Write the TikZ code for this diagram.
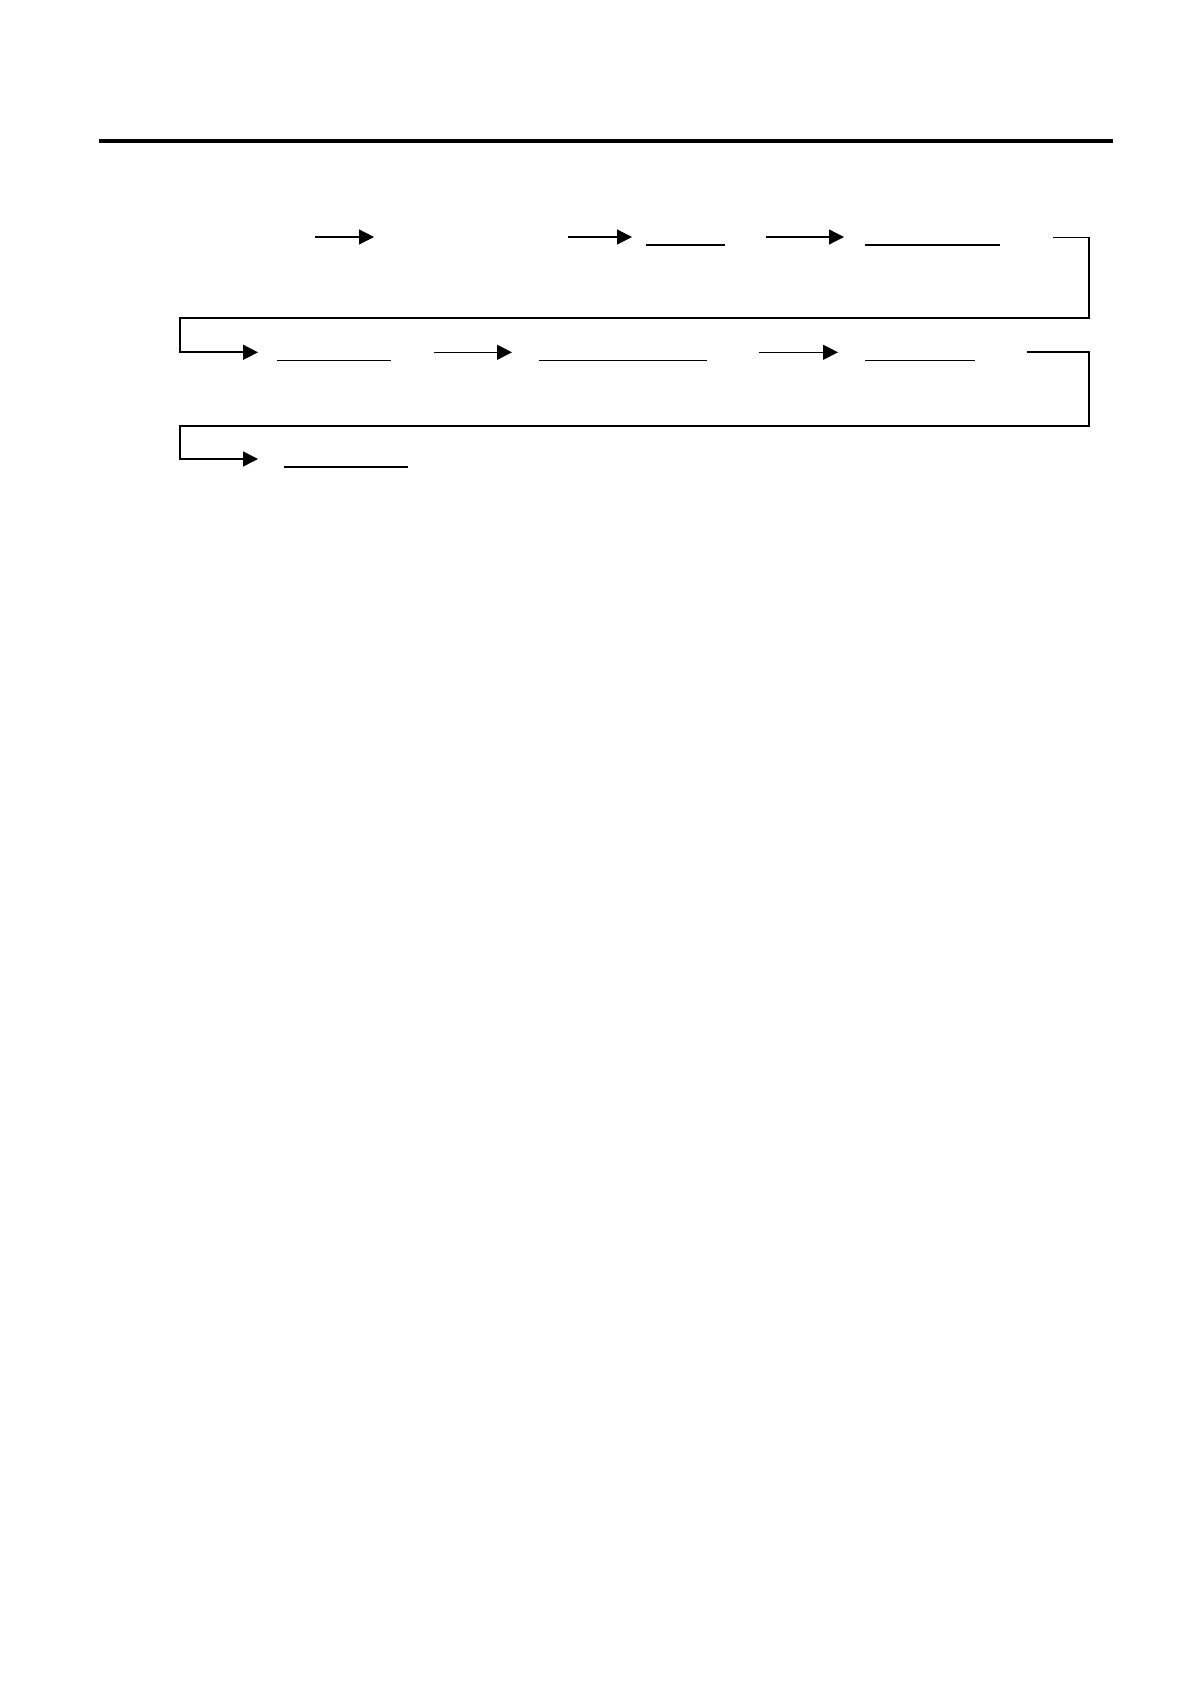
\documentclass[tikz,border=0pt]{standalone}
\usetikzlibrary{arrows.meta}
\begin{document}
\begin{tikzpicture}[x=0.5pt,y=-0.5pt,
  tip/.style={-{Triangle[length=7.5pt,width=7.5pt]}},
  flow/.style={line width=0.6pt,tip},
  blank/.style={line width=0.6pt},
  loopflow/.style={line width=0.8pt,line join=miter,tip},
  rulebar/.style={line width=2pt}]
\useasboundingbox (0,0) rectangle (1190,1684);
% top rule
\coordinate (rl) at (99,141);
\coordinate (rr) at (1113,141);
\draw[rulebar] (rl) -- (rr);
% row 1
\coordinate (a1s) at (315,237);  \coordinate (a1e) at (374,237);
\coordinate (a2s) at (568,237);  \coordinate (a2e) at (632,237);
\coordinate (u1s) at (646,245);  \coordinate (u1e) at (725,245);
\coordinate (a3s) at (766,237);  \coordinate (a3e) at (844,237);
\coordinate (u2s) at (865,245);  \coordinate (u2e) at (1000,245);
\draw[flow] (a1s) -- (a1e);
\draw[flow] (a2s) -- (a2e);
\draw[blank] (u1s) -- (u1e);
\draw[flow] (a3s) -- (a3e);
\draw[blank] (u2s) -- (u2e);
% return 1
\coordinate (b1s) at (1053,237.5);
\coordinate (b1a) at (1089,237.5);
\coordinate (b1b) at (1089,318.3);
\coordinate (b1c) at (180,318.3);
\coordinate (b1d) at (180,352.3);
\coordinate (b1e) at (258,352.3);
\draw[loopflow] (b1s) -- (b1a) -- (b1b) -- (b1c) -- (b1d) -- (b1e);
% row 2
\coordinate (u3s) at (277,360.3); \coordinate (u3e) at (391,360.3);
\coordinate (a5s) at (434,352.3); \coordinate (a5e) at (512,352.3);
\coordinate (u4s) at (539,360.3); \coordinate (u4e) at (707,360.3);
\coordinate (a6s) at (759,352.3); \coordinate (a6e) at (838,352.3);
\coordinate (u5s) at (865,360.3); \coordinate (u5e) at (975,360.3);
\draw[blank] (u3s) -- (u3e);
\draw[flow] (a5s) -- (a5e);
\draw[blank] (u4s) -- (u4e);
\draw[flow] (a6s) -- (a6e);
\draw[blank] (u5s) -- (u5e);
% return 2
\coordinate (b2s) at (1027,352.3);
\coordinate (b2a) at (1089,352.3);
\coordinate (b2b) at (1089,426);
\coordinate (b2c) at (180,426);
\coordinate (b2d) at (180,459);
\coordinate (b2e) at (258,459);
\draw[loopflow] (b2s) -- (b2a) -- (b2b) -- (b2c) -- (b2d) -- (b2e);
% row 3
\coordinate (u6s) at (284,467); \coordinate (u6e) at (408,467);
\draw[blank] (u6s) -- (u6e);
\end{tikzpicture}
\end{document}
